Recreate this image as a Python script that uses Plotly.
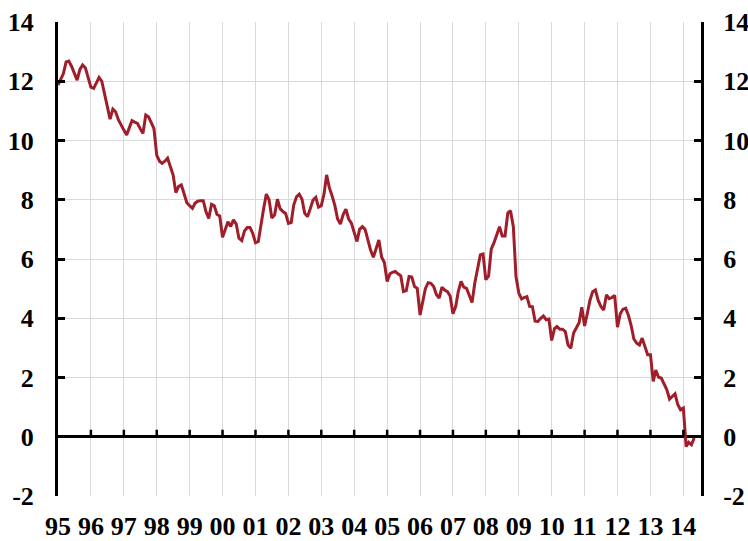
import pandas as pd
import plotly.graph_objects as go

# Monthly values, Jan 1995 onwards
values = [
    11.87, 12.05, 12.25, 12.65, 12.68, 12.50, 12.25, 12.04, 12.40, 12.55, 12.45, 12.10,  # 1995
    11.80, 11.76, 11.95, 12.13, 12.00, 11.55, 11.10, 10.72, 11.06, 10.97, 10.70, 10.50,  # 1996
    10.35, 10.19, 10.40, 10.67, 10.62, 10.58, 10.40, 10.24, 10.86, 10.80, 10.60, 10.40,  # 1997
    9.50, 9.30, 9.23, 9.30, 9.40, 9.10, 8.84, 8.24, 8.45, 8.50, 8.15, 7.90,            # 1998
    7.80, 7.71, 7.88, 7.95, 7.97, 7.97, 7.60, 7.37, 7.85, 7.80, 7.50, 7.45,            # 1999
    6.73, 7.05, 7.26, 7.10, 7.32, 7.18, 6.70, 6.62, 6.95, 7.06, 7.06, 6.87,            # 2000
    6.55, 6.59, 7.20, 7.70, 8.19, 7.99, 7.38, 7.49, 8.02, 7.70, 7.60, 7.54,            # 2001
    7.20, 7.23, 7.82, 8.10, 8.19, 8.02, 7.54, 7.43, 7.70, 7.99, 8.08, 7.75,            # 2002
    7.80, 8.20, 8.84, 8.40, 8.13, 7.80, 7.35, 7.18, 7.50, 7.68, 7.35, 7.21,            # 2003
    6.90, 6.59, 7.00, 7.09, 7.00, 6.60, 6.30, 6.06, 6.40, 6.64, 6.06, 5.88,            # 2004
    5.24, 5.50, 5.55, 5.58, 5.50, 5.43, 4.90, 4.93, 5.41, 5.39, 5.07, 5.01,            # 2005
    4.11, 4.60, 5.00, 5.20, 5.18, 5.07, 4.80, 4.68, 5.05, 4.95, 4.90, 4.75,            # 2006
    4.15, 4.40, 4.90, 5.24, 5.05, 5.01, 4.80, 4.53, 5.20, 5.70, 6.14, 6.17,            # 2007
    5.30, 5.43, 6.33, 6.55, 6.80, 7.09, 6.78, 6.78, 7.55, 7.63, 7.10, 5.40,            # 2008
    4.85, 4.65, 4.70, 4.73, 4.40, 4.39, 3.90, 3.89, 4.00, 4.08, 3.95, 3.97,            # 2009
    3.25, 3.65, 3.72, 3.63, 3.63, 3.55, 3.10, 2.99, 3.50, 3.70, 3.85, 4.37,            # 2010
    3.74, 4.17, 4.60, 4.90, 4.96, 4.60, 4.40, 4.28, 4.79, 4.66, 4.70, 4.77,            # 2011
    3.70, 4.15, 4.30, 4.34, 4.10, 3.75, 3.30, 3.16, 3.10, 3.33, 3.05, 2.77,            # 2012
    2.77, 1.87, 2.25, 2.01, 1.98, 1.75, 1.59, 1.27, 1.36, 1.45, 1.08, 0.91,            # 2013
    0.97, -0.33, -0.19, -0.27, -0.04,                                                  # 2014
]
start_date = "1995-01-01"
years = list(range(1995, 2015))
tick_labels = ["95", "96", "97", "98", "99", "00", "01", "02", "03", "04",
               "05", "06", "07", "08", "09", "10", "11", "12", "13", "14"]
y_ticks = [-2, 0, 2, 4, 6, 8, 10, 12, 14]
y_tick_labels = ["-2", "0", "2", "4", "6", "8", "10", "12", "14"]

dates = pd.date_range(start_date, periods=len(values), freq="MS")
year_dates = [f"{y}-01-01" for y in years]

LINE_RED = "#A01D2A"
GRID = "#D9D9D9"
FAM = "Liberation Serif, Times New Roman, serif"
TICKFONT = dict(family=FAM, size=26, color="black", weight="bold")

fig = go.Figure()
fig.add_trace(go.Scatter(x=dates, y=values, mode="lines",
                         line=dict(color=LINE_RED, width=3),
                         showlegend=False, hoverinfo="x+y"))
# invisible companion trace to carry the right-hand axis
fig.add_trace(go.Scatter(x=dates, y=values, mode="lines", yaxis="y2",
                         line=dict(color="rgba(0,0,0,0)", width=0),
                         showlegend=False, hoverinfo="skip"))

# small upward tick marks on the zero line at each year boundary
for d in year_dates[1:]:
    fig.add_shape(type="line", xref="x", yref="y", x0=d, x1=d,
                  ysizemode="pixel", yanchor=0, y0=0, y1=7,
                  line=dict(color="black", width=2.5), layer="above")

x_range = ["1995-01-01", "2014-07-16"]

fig.update_layout(
    width=748, height=541,
    margin=dict(l=58, r=47, t=22, b=45, autoexpand=False),
    paper_bgcolor="white", plot_bgcolor="white",
    font=dict(family=FAM, size=26, color="black"),
    xaxis=dict(
        type="date", range=x_range, automargin=False,
        tickmode="array", tickvals=year_dates, ticktext=tick_labels,
        showgrid=True, gridcolor=GRID, gridwidth=1,
        showline=False, ticks="", zeroline=False,
        tickfont=TICKFONT, ticklabelstandoff=12,
    ),
    yaxis=dict(
        range=[-2, 14], tickmode="array", tickvals=y_ticks, ticktext=y_tick_labels,
        automargin=False,
        showgrid=True, gridcolor=GRID, gridwidth=1,
        zeroline=True, zerolinecolor="black", zerolinewidth=3,
        showline=True, linecolor="black", linewidth=3,
        ticks="inside", ticklen=7, tickwidth=3, tickcolor="black",
        tickfont=TICKFONT, ticklabelstandoff=16,
    ),
    yaxis2=dict(
        range=[-2, 14], tickmode="array", tickvals=y_ticks, ticktext=y_tick_labels,
        automargin=False,
        overlaying="y", side="right",
        showgrid=False, zeroline=False,
        showline=True, linecolor="black", linewidth=3,
        ticks="inside", ticklen=7, tickwidth=3, tickcolor="black",
        tickfont=TICKFONT, ticklabelstandoff=14,
    ),
)

fig.write_html("out.html", config={"displayModeBar": False},
               post_script="document.body.style.margin='0';document.body.style.overflow='hidden';")
